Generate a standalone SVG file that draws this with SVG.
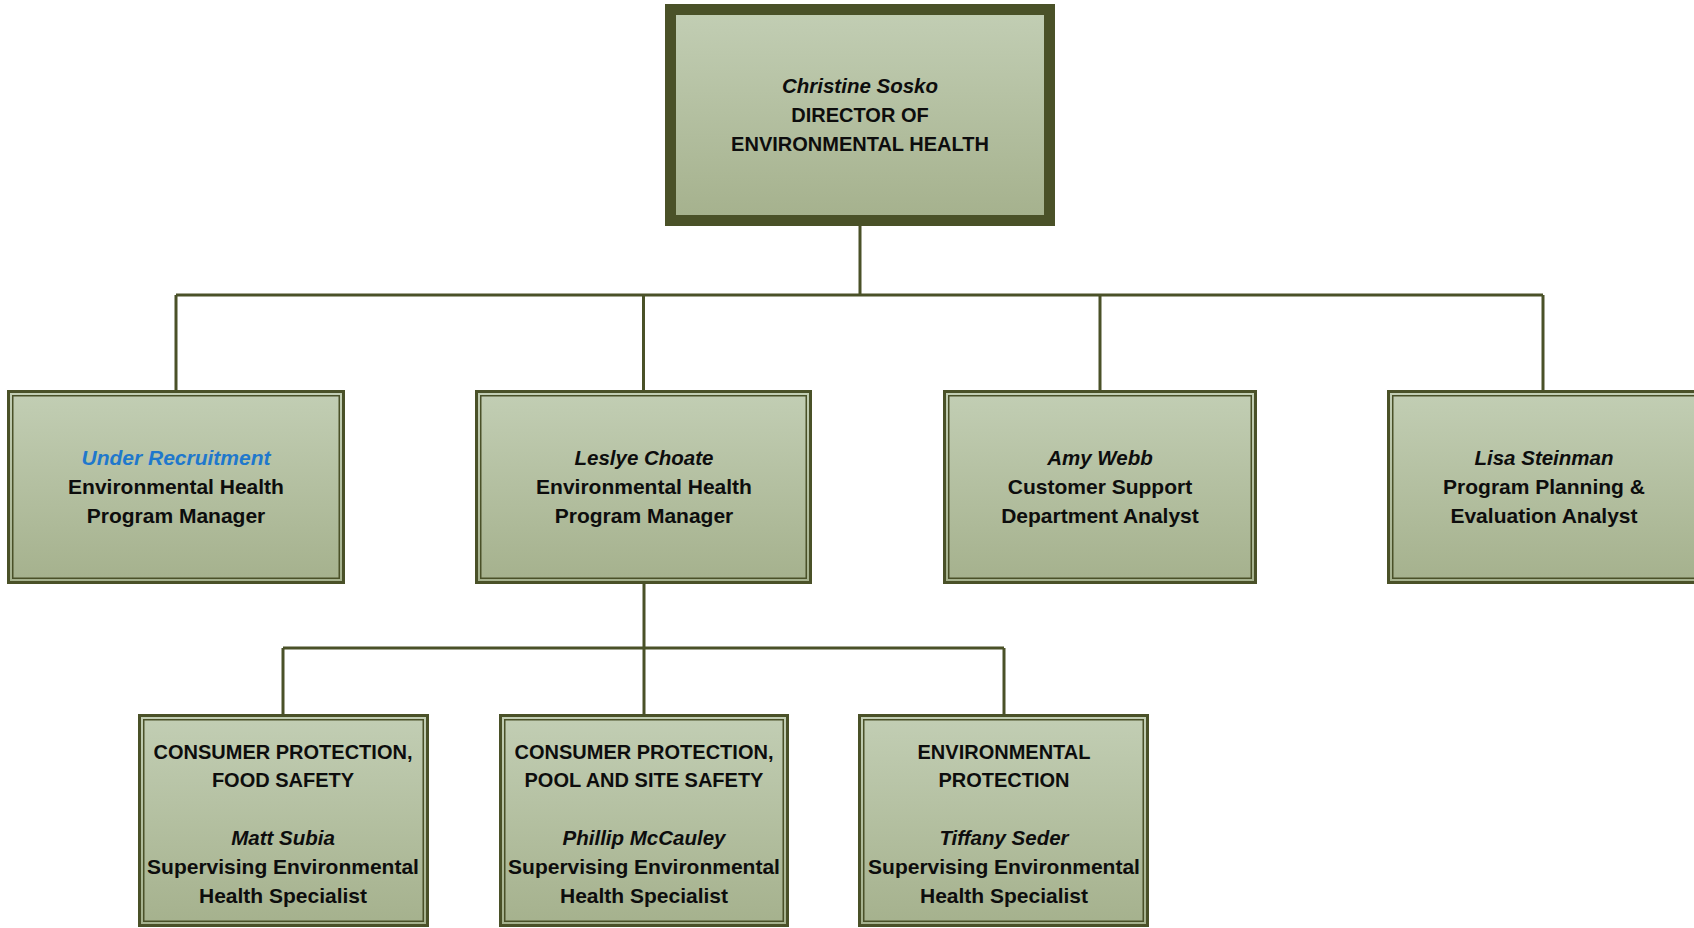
<svg xmlns="http://www.w3.org/2000/svg" width="1694" height="928" viewBox="0 0 1694 928">
<defs>
<linearGradient id="g" x1="0" y1="0" x2="0" y2="1">
<stop offset="0" stop-color="#c2ceb4"/>
<stop offset="1" stop-color="#a5b18d"/>
</linearGradient>
<style>
.o{fill:url(#g);stroke:#4a5128;stroke-width:3}
.i{fill:none;stroke:#4a5128;stroke-width:1.5}
.top{fill:url(#g);stroke:#4a5128;stroke-width:11}
.c{fill:none;stroke:#4a5128;stroke-width:3}
text{font-family:"Liberation Sans",Arial,sans-serif;font-weight:bold;font-size:21px;fill:#0d0d0d;text-anchor:middle}
.cap{font-size:20px}
.it{font-style:italic;font-size:20.5px}
.blue{fill:#1f78cc;font-size:21px}
</style>
</defs>
<rect width="1694" height="928" fill="#fff"/>
<g id="connectors">
<path class="c" d="M860 226V295M176 295H1543M176 295V390M643.5 295V390M1100 295V390M1543 295V390"/>
<path class="c" d="M644 584V648M283 648H1004M283 648V714M644 648V714M1004 648V714"/>
</g>
<g id="director">
<rect class="top" x="670.5" y="9.5" width="379" height="211"/>
<text x="860" y="93" class="it">Christine Sosko</text>
<text x="860" y="122" class="cap">DIRECTOR OF</text>
<text x="860" y="151" class="cap">ENVIRONMENTAL HEALTH</text>
</g>
<g id="vacant-manager">
<rect class="o" x="8.5" y="391.5" width="335" height="191"/>
<rect class="i" x="12.75" y="395.75" width="326.5" height="182.5"/>
<text x="176" y="465" class="it blue">Under Recruitment</text>
<text x="176" y="494">Environmental Health</text>
<text x="176" y="523">Program Manager</text>
</g>
<g id="leslye-choate">
<rect class="o" x="476.5" y="391.5" width="334" height="191"/>
<rect class="i" x="480.75" y="395.75" width="325.5" height="182.5"/>
<text x="644" y="465" class="it">Leslye Choate</text>
<text x="644" y="494">Environmental Health</text>
<text x="644" y="523">Program Manager</text>
</g>
<g id="amy-webb">
<rect class="o" x="944.5" y="391.5" width="311" height="191"/>
<rect class="i" x="948.75" y="395.75" width="302.5" height="182.5"/>
<text x="1100" y="465" class="it">Amy Webb</text>
<text x="1100" y="494">Customer Support</text>
<text x="1100" y="523">Department Analyst</text>
</g>
<g id="lisa-steinman">
<rect class="o" x="1388.5" y="391.5" width="311" height="191"/>
<rect class="i" x="1392.75" y="395.75" width="302.5" height="182.5"/>
<text x="1544" y="465" class="it">Lisa Steinman</text>
<text x="1544" y="494">Program Planning &amp;</text>
<text x="1544" y="523">Evaluation Analyst</text>
</g>
<g id="food-safety">
<rect class="o" x="139.5" y="715.5" width="288" height="210"/>
<rect class="i" x="143.75" y="719.75" width="279.5" height="201.5"/>
<text x="283" y="759" class="cap">CONSUMER PROTECTION,</text>
<text x="283" y="787" class="cap">FOOD SAFETY</text>
<text x="283" y="845" class="it">Matt Subia</text>
<text x="283" y="874">Supervising Environmental</text>
<text x="283" y="903">Health Specialist</text>
</g>
<g id="pool-site-safety">
<rect class="o" x="500.5" y="715.5" width="287" height="210"/>
<rect class="i" x="504.75" y="719.75" width="278.5" height="201.5"/>
<text x="644" y="759" class="cap">CONSUMER PROTECTION,</text>
<text x="644" y="787" class="cap">POOL AND SITE SAFETY</text>
<text x="644" y="845" class="it">Phillip McCauley</text>
<text x="644" y="874">Supervising Environmental</text>
<text x="644" y="903">Health Specialist</text>
</g>
<g id="environmental-protection">
<rect class="o" x="859.5" y="715.5" width="288" height="210"/>
<rect class="i" x="863.75" y="719.75" width="279.5" height="201.5"/>
<text x="1004" y="759" class="cap">ENVIRONMENTAL</text>
<text x="1004" y="787" class="cap">PROTECTION</text>
<text x="1004" y="845" class="it">Tiffany Seder</text>
<text x="1004" y="874">Supervising Environmental</text>
<text x="1004" y="903">Health Specialist</text>
</g>
</svg>
